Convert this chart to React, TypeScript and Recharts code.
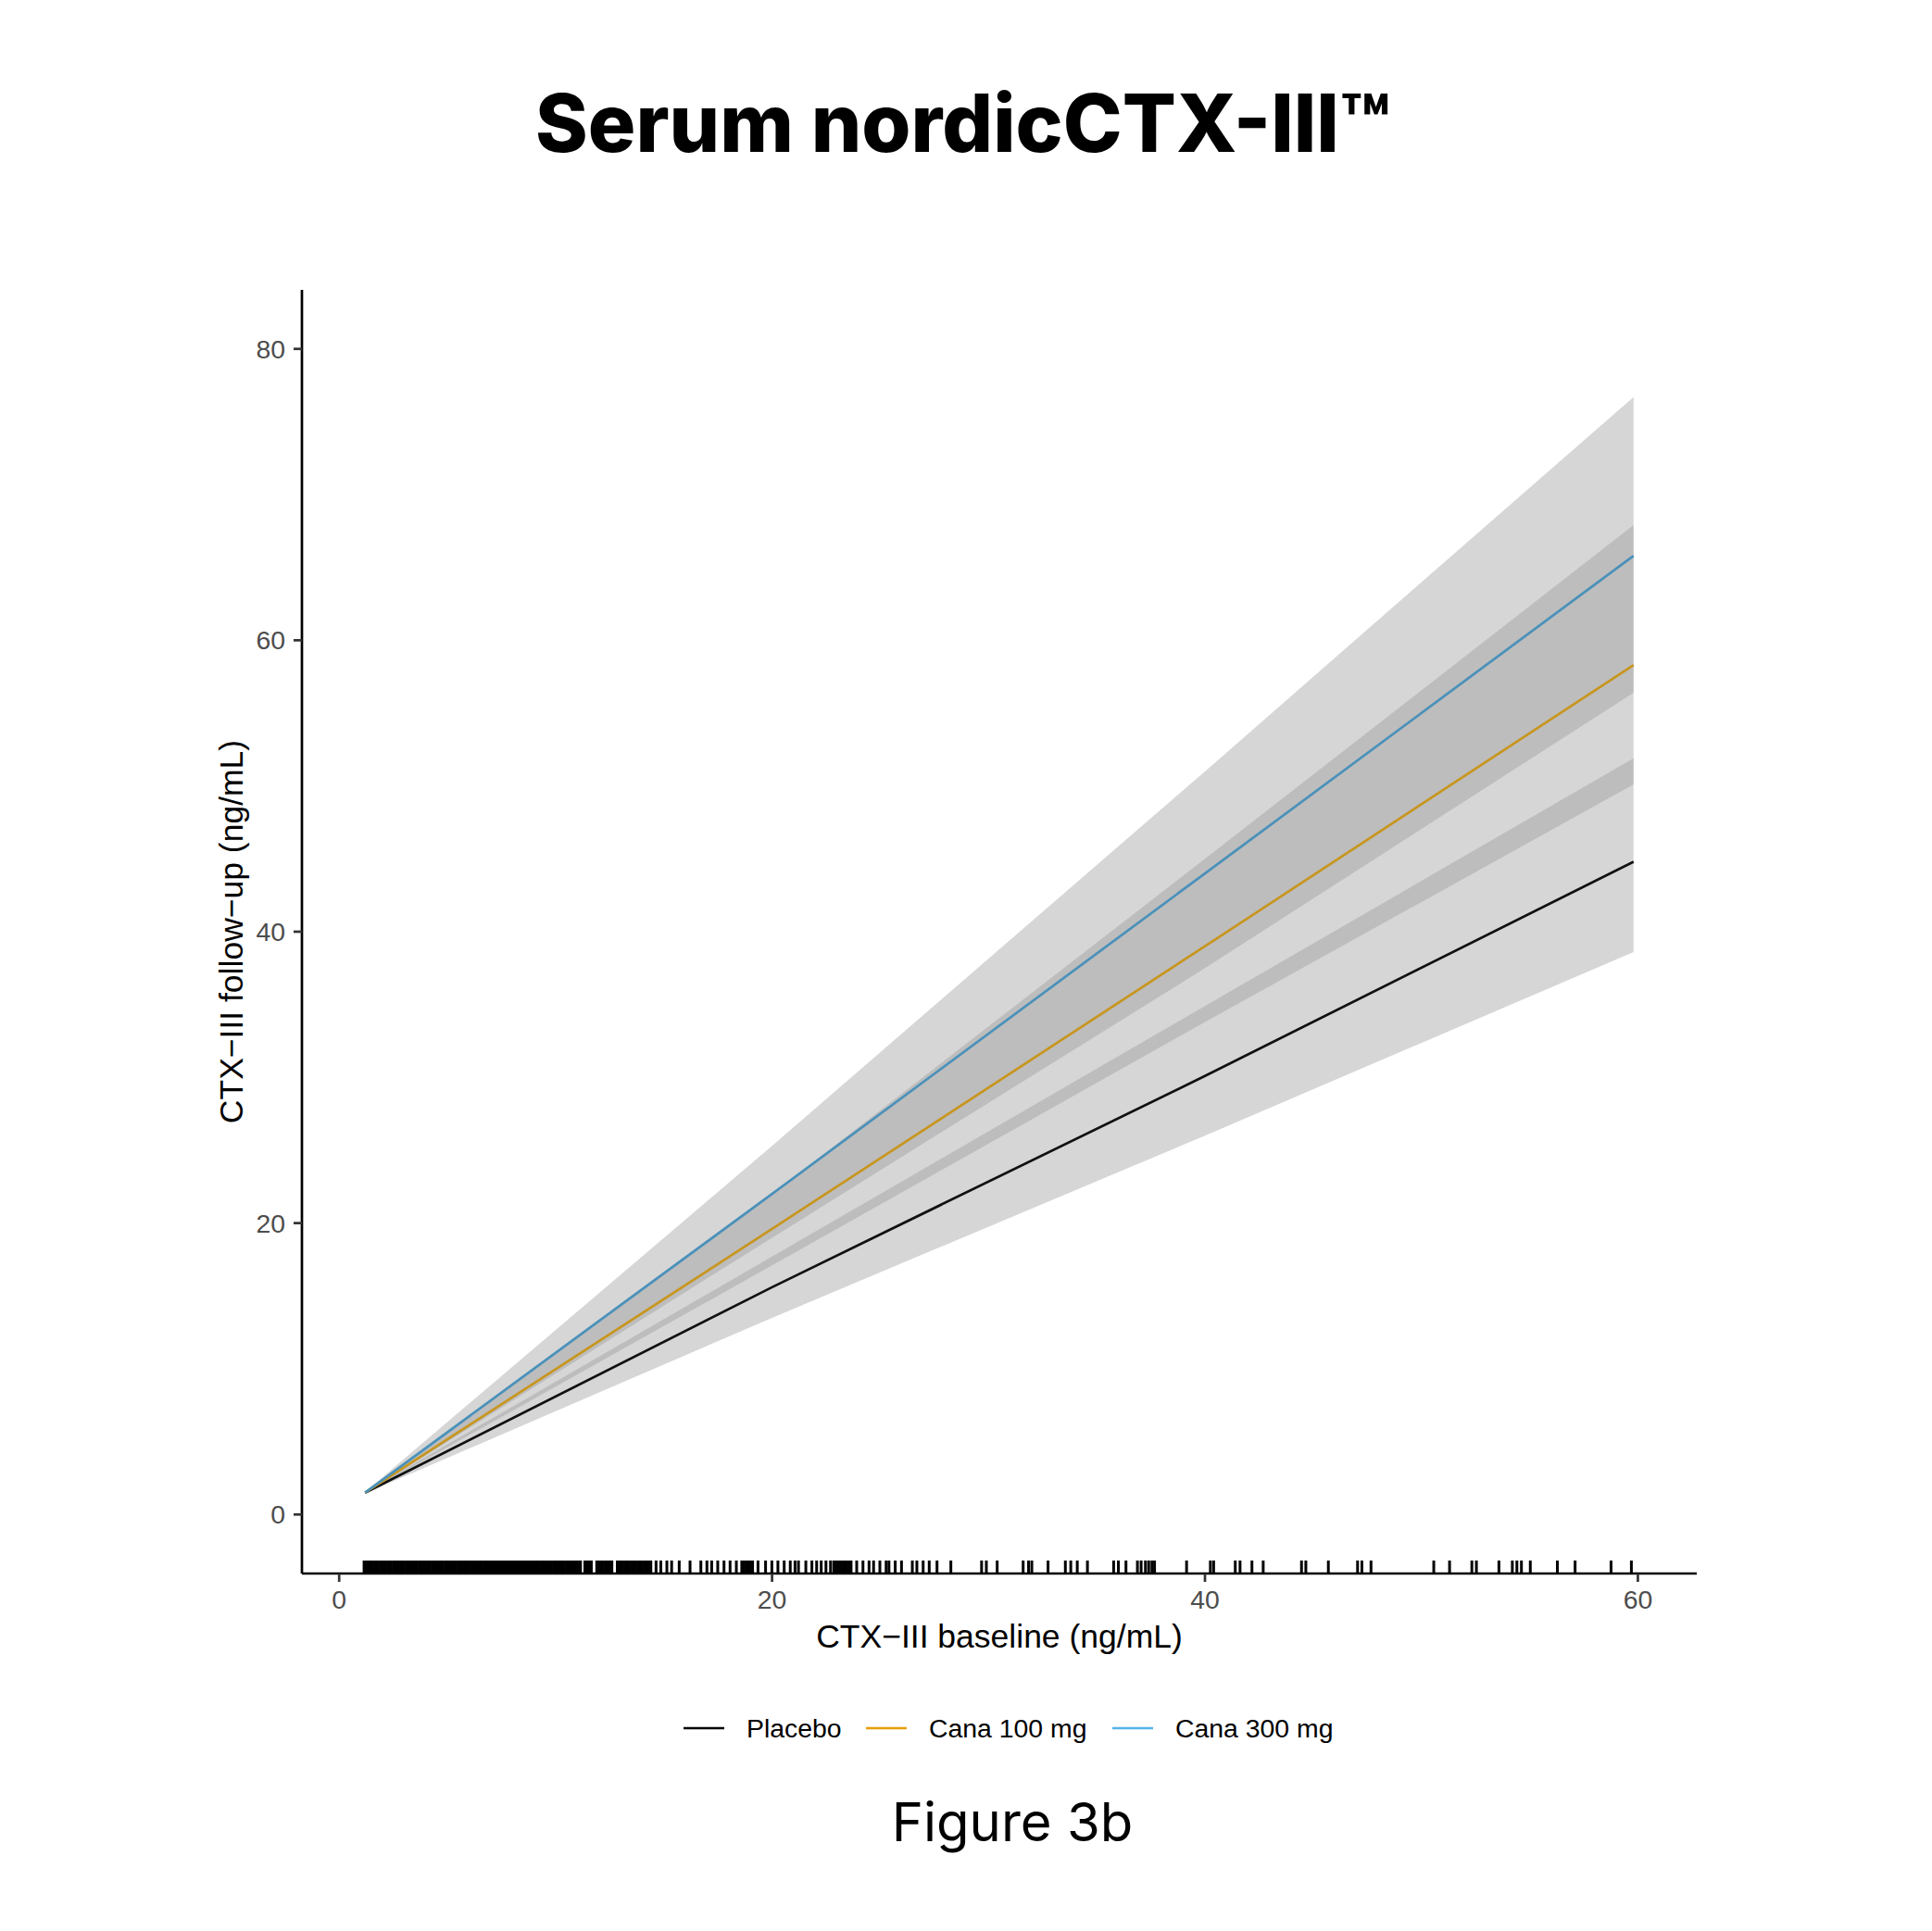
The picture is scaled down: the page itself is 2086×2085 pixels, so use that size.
import { Area, ComposedChart, Line, Scatter, XAxis, YAxis } from "recharts"

const X_TICKS = [0, 20, 40, 60]
const Y_TICKS = [0, 20, 40, 60, 80]
const X_DOMAIN = [-1.72, 62.72]
const Y_DOMAIN = [-4.05, 84.05]

// baseline values (ng/mL) where the fitted curves were read
const baseline = [1.2, 20, 40, 59.8]

const placebo = [1.5, 15.6, 30.1, 44.8]
const placeboLow = [1.45, 13.5, 26.0, 38.6]
const placeboHigh = [1.55, 17.7, 34.9, 51.9]

const cana100 = [1.5, 19.6, 39.0, 58.3]
const cana100Low = [1.45, 17.1, 33.8, 50.1]
const cana100High = [1.55, 22.0, 45.0, 67.9]

const cana300 = [1.5, 22.0, 44.0, 65.8]
const cana300Low = [1.45, 19.0, 37.5, 56.4]
const cana300High = [1.55, 25.3, 51.0, 76.7]

// observed baseline values shown as a rug
const rugValues = [
  1.15, 1.25, 1.3, 1.4, 1.5, 1.55, 1.65, 1.75, 1.8, 1.9, 2.0, 2.1, 2.15, 2.25, 2.35, 2.4, 2.5, 2.6, 2.7,
  2.75, 2.85, 2.95, 3.0, 3.1, 3.2, 3.3, 3.35, 3.45, 3.55, 3.6, 3.7, 3.8, 3.9, 3.95, 4.05, 4.15, 4.2, 4.3,
  4.4, 4.5, 4.55, 4.65, 4.75, 4.8, 4.9, 5.0, 5.1, 5.15, 5.25, 5.35, 5.4, 5.5, 5.6, 5.7, 5.75, 5.85, 5.95,
  6.0, 6.1, 6.2, 6.3, 6.35, 6.45, 6.55, 6.6, 6.7, 6.8, 6.9, 6.95, 7.05, 7.15, 7.2, 7.3, 7.4, 7.5, 7.55,
  7.65, 7.75, 7.8, 7.9, 8.0, 8.1, 8.15, 8.25, 8.35, 8.4, 8.5, 8.6, 8.7, 8.75, 8.85, 8.95, 9.0, 9.1, 9.2,
  9.3, 9.35, 9.45, 9.55, 9.6, 9.7, 9.8, 9.9, 9.95, 10.05, 10.15, 10.2, 10.3, 10.4, 10.5, 10.55, 10.65,
  10.75, 10.8, 10.9, 11.0, 11.1, 11.15, 11.35, 11.45, 11.55, 11.65, 11.9, 12.0, 12.1, 12.2, 12.3, 12.4,
  12.5, 12.6, 12.85, 12.9, 13.0, 13.1, 13.2, 13.3, 13.4, 13.5, 13.6, 13.7,
  13.8, 13.9, 14.0, 14.1, 14.2, 14.3, 14.4, 14.64, 14.86, 15.14, 15.36, 15.71, 16.21, 16.71, 16.99,
  17.21, 17.49, 17.78, 18.06, 18.35, 18.6, 18.7, 18.8, 18.9, 19.0, 19.1, 19.35, 19.7, 19.99, 20.27,
  20.56, 20.84, 21.06, 21.22, 21.56, 21.84, 22.06, 22.27, 22.49, 22.7, 22.85, 22.95, 23.05, 23.15, 23.25,
  23.35, 23.45, 23.55, 23.65, 23.91, 24.2, 24.48, 24.69, 24.98, 25.27, 25.4, 25.69, 25.98, 26.48, 26.69,
  26.98, 27.26, 27.62, 28.26, 29.68, 29.9, 30.4, 31.6, 31.85, 32.0, 32.75, 33.55, 33.8, 34.1, 34.57,
  35.78, 36.0, 36.35, 36.88, 37.05, 37.25, 37.4, 37.55, 37.67, 39.15, 40.25, 40.4, 41.4, 41.62, 42.17,
  42.69, 44.46, 44.66, 45.7, 47.05, 47.25, 47.67, 50.57, 51.3, 52.33, 52.54, 53.58, 54.2, 54.41, 54.62,
  55.03, 56.28, 57.1, 58.76, 59.7,
]

// color = legend key, lineColor = how the line reads under the grey bands
const series = [
  { key: "placebo", name: "Placebo", color: "#000000", lineColor: "#111111" },
  { key: "cana100", name: "Cana 100 mg", color: "#E69F00", lineColor: "#C8961F" },
  { key: "cana300", name: "Cana 300 mg", color: "#56B4E9", lineColor: "#4A91BA" },
]

const rows = baseline.map((x, i) => ({
  x,
  placebo: placebo[i],
  placeboBand: [placeboLow[i], placeboHigh[i]],
  cana100: cana100[i],
  cana100Band: [cana100Low[i], cana100High[i]],
  cana300: cana300[i],
  cana300Band: [cana300Low[i], cana300High[i]],
}))

const rugData = rugValues.map((x) => ({ x, y: Y_DOMAIN[0] }))

const LEGEND_X = [738, 935, 1201]
const AXIS_FONT = "'Liberation Sans', Arial, sans-serif"

function RugTick(props: any) {
  const { cx, cy } = props
  return <line x1={cx} x2={cx} y1={cy} y2={cy - 14} stroke="#000" strokeWidth={3} />
}

export default function App() {
  const tickStyle = { fill: "#4D4D4D", fontSize: 28.4, fontFamily: AXIS_FONT }
  return (
    <div style={{ position: "absolute", left: 0, top: 0, width: 2086, height: 2085, background: "#fff" }}>
      <ComposedChart
        width={2086}
        height={1800}
        data={rows}
        margin={{ top: 313, right: 254, bottom: 0, left: 0 }}
      >
        <XAxis
          dataKey="x"
          type="number"
          domain={X_DOMAIN}
          ticks={X_TICKS}
          allowDataOverflow
          height={101}
          tickSize={9}
          tickMargin={9}
          tick={tickStyle}
          axisLine={{ stroke: "#000", strokeWidth: 2.7 }}
          tickLine={{ stroke: "#333", strokeWidth: 2.7 }}
        />
        <YAxis
          dataKey="y"
          type="number"
          domain={Y_DOMAIN}
          ticks={Y_TICKS}
          allowDataOverflow
          width={326}
          tickSize={9}
          tickMargin={9}
          tick={tickStyle}
          axisLine={{ stroke: "#000", strokeWidth: 2.7 }}
          tickLine={{ stroke: "#333", strokeWidth: 2.7 }}
        />
        {series.map((s) => (
          <Area
            key={s.key + "Band"}
            dataKey={s.key + "Band"}
            type="linear"
            stroke="none"
            fill="#999999"
            fillOpacity={0.4}
            isAnimationActive={false}
          />
        ))}
        {series.map((s) => (
          <Line
            key={s.key}
            dataKey={s.key}
            type="linear"
            stroke={s.lineColor}
            strokeWidth={2.7}
            dot={false}
            isAnimationActive={false}
          />
        ))}
        <Scatter data={rugData} shape={RugTick} isAnimationActive={false} />
      </ComposedChart>

      <svg width={2086} height={2085} style={{ position: "absolute", left: 0, top: 0, pointerEvents: "none" }}>
        <text
          x={1040}
          y={164}
          textAnchor="middle"
          fontFamily="Inter, sans-serif"
          fontWeight={800}
          fontSize={86}
          fill="#000"
        >
          Serum nordicCTX-III™
        </text>
        <text x={1079} y={1779} textAnchor="middle" fontFamily={AXIS_FONT} fontSize={35.5} fill="#000">
          CTX−III baseline (ng/mL)
        </text>
        <text
          x={262}
          y={1006}
          textAnchor="middle"
          transform="rotate(-90 262 1006)"
          fontFamily={AXIS_FONT}
          fontSize={35.5}
          fill="#000"
        >
          CTX−III follow−up (ng/mL)
        </text>
        {series.map((s, i) => (
          <g key={s.key}>
            <line x1={LEGEND_X[i]} x2={LEGEND_X[i] + 44} y1={1866} y2={1866} stroke={s.color} strokeWidth={2.7} />
            <text x={LEGEND_X[i] + 68} y={1876} fontFamily={AXIS_FONT} fontSize={28.4} fill="#000">
              {s.name}
            </text>
          </g>
        ))}
        <text x={1093} y={1988} textAnchor="middle" fontFamily="Inter, sans-serif" fontSize={58} fill="#000">
          Figure 3b
        </text>
      </svg>
    </div>
  )
}
